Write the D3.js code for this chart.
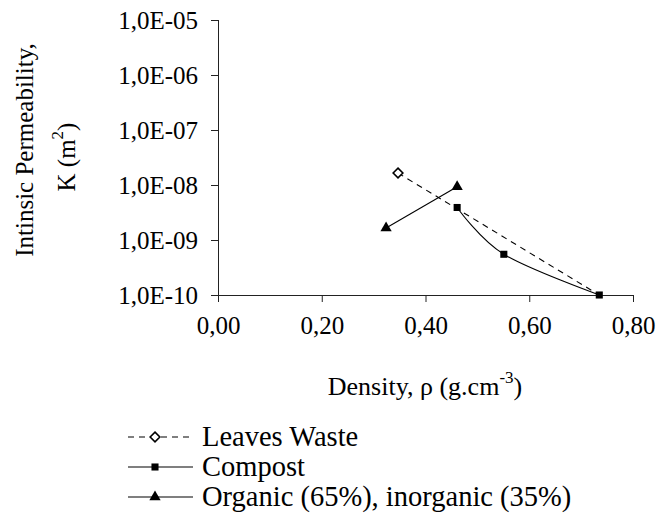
<!DOCTYPE html>
<html>
<head>
<meta charset="utf-8">
<script src="https://cdn.jsdelivr.net/npm/d3@7"></script>
</head>
<body style="margin:0; font-family: 'Liberation Serif', serif;">
<script>
// data
var leavesX = [0.347, 0.735];
var leavesK = [1.65e-8, 1.0e-10];
var compostX = [0.461, 0.551, 0.735];
var compostK = [3.9e-9, 5.5e-10, 1.0e-10];
var organicX = [0.324, 0.461];
var organicK = [1.65e-9, 9.3e-9];
var xTicks = [0, 0.2, 0.4, 0.6, 0.8];
var yTicks = [1e-10, 1e-9, 1e-8, 1e-7, 1e-6, 1e-5];

var W = 657, H = 514;
var svg = d3.select('body').append('svg').attr('width', W).attr('height', H)
  .style('font-family', "'Liberation Serif'");

var x = d3.scaleLinear().domain([0, 0.8]).range([218, 633]);
var y = d3.scaleLog().domain([1e-10, 1e-5]).range([295, 20]);

function zip(xs, ys) { return xs.map(function(v, i) { return [v, ys[i]]; }); }
var leaves = zip(leavesX, leavesK);
var compost = zip(compostX, compostK);
var organic = zip(organicX, organicK);

function fmtY(v) {
  var e = Math.round(Math.log10(v));
  var s = (e < 0 ? '-' : '+') + (Math.abs(e) < 10 ? '0' : '') + Math.abs(e);
  return '1,0E' + s;
}

// y axis
var yAxis = svg.append('g').attr('transform', 'translate(218,0)')
  .call(d3.axisLeft(y).tickValues(yTicks).tickFormat(fmtY).tickSize(7).tickPadding(13));
// x axis
var xAxis = svg.append('g').attr('transform', 'translate(0,295)')
  .call(d3.axisBottom(x).tickValues(xTicks)
    .tickFormat(function(d) { return d3.format('.2f')(d).replace('.', ','); })
    .tickSize(7).tickPadding(14));
[yAxis, xAxis].forEach(function(g) {
  g.attr('font-family', null).attr('font-size', 25);
  g.selectAll('text').attr('fill', '#000');
  g.selectAll('line,path').attr('stroke', '#222');
});
xAxis.select('.domain').attr('d', 'M211,0.5H633');
yAxis.select('.domain').attr('d', 'M0.5,20V295');

// axis titles
var xt = svg.append('text').attr('x', 425).attr('y', 395).attr('text-anchor', 'middle').attr('font-size', 26);
xt.append('tspan').text('Density, \u03c1 (g.cm');
xt.append('tspan').attr('dy', -12).attr('font-size', 17).text('-3');
xt.append('tspan').attr('dy', 12).text(')');

svg.append('text').attr('transform', 'translate(33,150) rotate(-90)')
  .attr('text-anchor', 'middle').attr('font-size', 25).text('Intinsic Permeability,');
var kt = svg.append('text').attr('transform', 'translate(75,157) rotate(-90)')
  .attr('text-anchor', 'middle').attr('font-size', 25);
kt.append('tspan').text('K (m');
kt.append('tspan').attr('dy', -12).attr('font-size', 17).text('2');
kt.append('tspan').attr('dy', 12).text(')');

// series lines
var straight = d3.line().x(function(d) { return x(d[0]); }).y(function(d) { return y(d[1]); });
var smooth = d3.line().x(function(d) { return x(d[0]); }).y(function(d) { return y(d[1]); })
  .curve(d3.curveCardinal.tension(0));

svg.append('path').attr('d', straight(leaves)).attr('fill', 'none')
  .attr('stroke', '#000').attr('stroke-width', 1.1).attr('stroke-dasharray', '6,5');
svg.append('path').attr('d', smooth(compost)).attr('fill', 'none')
  .attr('stroke', '#000').attr('stroke-width', 1.1);
svg.append('path').attr('d', straight(organic)).attr('fill', 'none')
  .attr('stroke', '#000').attr('stroke-width', 1.1);

var diamond = d3.symbol().type(d3.symbolDiamond2).size(60);
var square = d3.symbol().type(d3.symbolSquare).size(50);
var tri = d3.symbol().type(d3.symbolTriangle).size(55);

svg.selectAll('.lw').data(leaves.slice(0, 1)).enter().append('path')
  .attr('transform', function(d) { return 'translate(' + x(d[0]) + ',' + y(d[1]) + ')'; })
  .attr('d', diamond).attr('fill', '#fff').attr('stroke', '#000').attr('stroke-width', 1.6);
svg.selectAll('.cp').data(compost).enter().append('path')
  .attr('transform', function(d) { return 'translate(' + x(d[0]) + ',' + y(d[1]) + ')'; })
  .attr('d', square).attr('fill', '#000');
svg.selectAll('.og').data(organic).enter().append('path')
  .attr('transform', function(d) { return 'translate(' + x(d[0]) + ',' + y(d[1]) + ')'; })
  .attr('d', tri).attr('fill', '#000');

// legend
var legend = [
  { name: 'Leaves Waste', dash: '6,5', sym: diamond, fill: '#fff' },
  { name: 'Compost', dash: null, sym: square, fill: '#000' },
  { name: 'Organic (65%), inorganic (35%)', dash: null, sym: tri, fill: '#000' }
];
var lg = svg.selectAll('.leg').data(legend).enter().append('g')
  .attr('transform', function(d, i) { return 'translate(0,' + (437 + i * 30) + ')'; });
lg.append('line').attr('x1', 128).attr('x2', 193).attr('y1', 0).attr('y2', 0)
  .attr('stroke', '#000').attr('stroke-width', 1.1)
  .attr('stroke-dasharray', function(d) { return d.dash; });
lg.append('path').attr('transform', 'translate(155,0)').attr('d', function(d) { return d.sym(); })
  .attr('fill', function(d) { return d.fill; }).attr('stroke', '#000')
  .attr('stroke-width', function(d) { return d.fill === '#fff' ? 1.6 : 0; });
lg.append('text').attr('x', 202).attr('y', 9).attr('font-size', 28.5).text(function(d) { return d.name; });

svg.selectAll('text').style('font-family', function() { return "'Liberation Serif'"; });
</script>
</body>
</html>
